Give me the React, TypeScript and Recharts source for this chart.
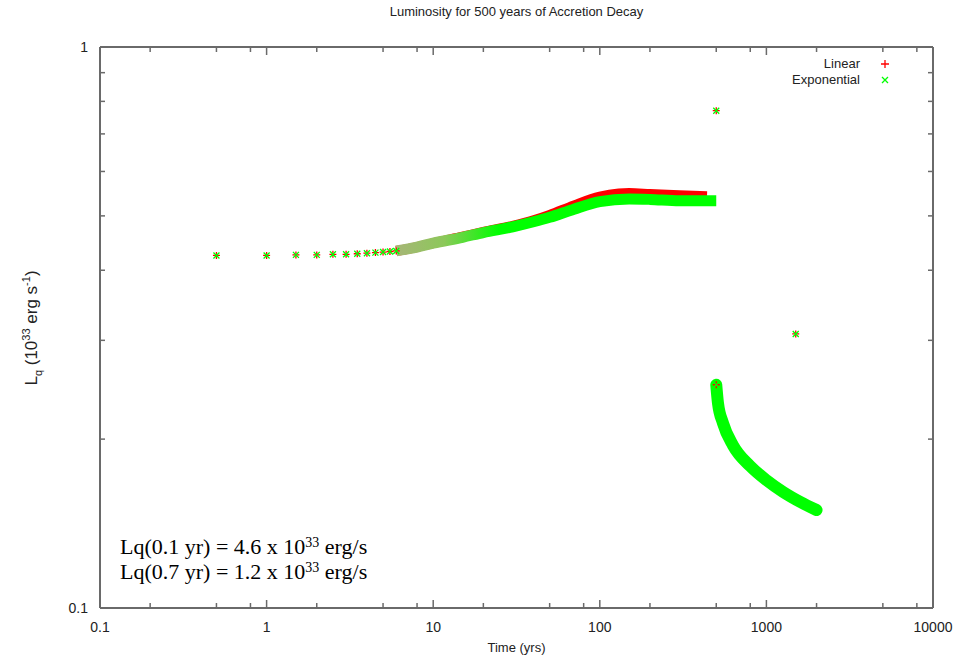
import React from "react";
import { ScatterChart, Scatter, XAxis, YAxis } from "recharts";

// time (yrs) and luminosity (10^33 erg/s)
const earlyT = [0.5, 1, 1.5, 2, 2.5, 3, 3.5, 4, 4.5, 5, 5.5, 6];
const earlyL = [0.425, 0.425, 0.426, 0.426, 0.427, 0.427, 0.428, 0.429, 0.43, 0.431, 0.432, 0.433];

const expT = [6, 8, 10, 15, 20, 30, 40, 50, 70, 100, 150, 200, 300, 400, 500];
const expL = [0.433, 0.44, 0.447, 0.458, 0.467, 0.478, 0.488, 0.497, 0.514, 0.53, 0.536, 0.535, 0.532, 0.532, 0.532];

const linT = [6, 8, 10, 15, 20, 30, 40, 50, 70, 100, 130, 150, 200, 300, 440];
const linL = [0.433, 0.44, 0.447, 0.459, 0.468, 0.48, 0.491, 0.502, 0.522, 0.541, 0.548, 0.549, 0.547, 0.544, 0.542];

const decayT = [500, 512, 549, 630, 800, 1000, 1260, 1600, 2000];
const decayL = [0.25, 0.232, 0.2135, 0.195, 0.179, 0.169, 0.161, 0.1545, 0.1495];

const strayT = [500, 500, 1500];
const strayL = [0.77, 0.25, 0.308];

const xMajor = [0.1, 1, 10, 100, 1000, 10000];
const xMinor = [0.2, 0.5, 0.8, 2, 5, 8, 20, 50, 80, 200, 500, 800, 2000, 5000, 8000];
const yMajor = [0.1, 1];
const yMinor = [0.2, 0.3, 0.4, 0.5, 0.6, 0.7, 0.8, 0.9];

const zip = (t: number[], l: number[]) => t.map((v, i) => ({ t: v, L: l[i] }));

const RED = "#ff0000";
const GREEN = "#00ff00";
const FRAME = "#6a6a6a";
const SANS = "'Liberation Sans', Arial, sans-serif";

const Plus = (p: any) => (
    <path d={`M${p.cx - 3.5},${p.cy}h7M${p.cx},${p.cy - 3.5}v7`} stroke={RED} strokeWidth={1.3} fill="none" />
);
const Cross = (p: any) => (
    <path d={`M${p.cx - 3},${p.cy - 3}l6,6M${p.cx - 3},${p.cy + 3}l6,-6`} stroke={GREEN} strokeWidth={1.3} fill="none" />
);
const Nothing = () => <g />;

const BottomTick = (p: any) => {
    const v = p.payload.value;
    const major = xMajor.includes(v);
    return (
        <g>
            <line x1={p.x} x2={p.x} y1={p.y} y2={p.y - (major ? 8 : 5)} stroke={FRAME} strokeWidth={1.5} />
            {major && (
                <text x={p.x} y={p.y + 24} textAnchor="middle" fontSize={14} fontFamily={SANS} fill="#222">
                    {String(v)}
                </text>
            )}
        </g>
    );
};
const TopTick = (p: any) => {
    const major = xMajor.includes(p.payload.value);
    return <line x1={p.x} x2={p.x} y1={p.y} y2={p.y + (major ? 8 : 5)} stroke={FRAME} strokeWidth={1.5} />;
};
const LeftTick = (p: any) => {
    const v = p.payload.value;
    const major = yMajor.includes(v);
    return (
        <g>
            <line x1={p.x} x2={p.x + (major ? 8 : 5)} y1={p.y} y2={p.y} stroke={FRAME} strokeWidth={1.5} />
            {major && (
                <text x={p.x - 12} y={p.y + 5} textAnchor="end" fontSize={14} fontFamily={SANS} fill="#222">
                    {String(v)}
                </text>
            )}
        </g>
    );
};
const RightTick = (p: any) => {
    const major = yMajor.includes(p.payload.value);
    return <line x1={p.x} x2={p.x - (major ? 8 : 5)} y1={p.y} y2={p.y} stroke={FRAME} strokeWidth={1.5} />;
};

export default function App() {
    const xTicks = [...xMajor, ...xMinor].sort((a, b) => a - b);
    const yTicks = [...yMajor, ...yMinor].sort((a, b) => a - b);
    const axisLine = { stroke: FRAME, strokeWidth: 2 };

    return (
        <div style={{ position: "absolute", left: 0, top: 0, width: 966, height: 666, background: "#fff" }}>
            <ScatterChart width={966} height={666} margin={{ top: 46, right: 32, bottom: 28, left: 60 }}>
                <defs>
                    <linearGradient id="expGrad" x1="0" y1="0" x2="1" y2="0">
                        <stop offset="0" stopColor="#a6b676" />
                        <stop offset="0.15" stopColor="#8cc85a" />
                        <stop offset="0.32" stopColor={GREEN} />
                        <stop offset="1" stopColor={GREEN} />
                    </linearGradient>
                </defs>
                <XAxis xAxisId="b" type="number" dataKey="t" scale="log" domain={[0.1, 10000]} ticks={xTicks}
                    allowDataOverflow height={30} tickSize={0} tickMargin={0} tickLine={false} axisLine={axisLine}
                    tick={<BottomTick />} interval={0} />
                <XAxis xAxisId="tp" orientation="top" type="number" dataKey="t" scale="log" domain={[0.1, 10000]}
                    ticks={xTicks} allowDataOverflow height={1} tickSize={0} tickMargin={0} tickLine={false}
                    axisLine={axisLine} tick={<TopTick />} interval={0} />
                <YAxis yAxisId="l" type="number" dataKey="L" scale="log" domain={[0.1, 1]} ticks={yTicks}
                    allowDataOverflow width={40} tickSize={0} tickMargin={0} tickLine={false} axisLine={axisLine}
                    tick={<LeftTick />} interval={0} />
                <YAxis yAxisId="r" orientation="right" type="number" dataKey="L" scale="log" domain={[0.1, 1]}
                    ticks={yTicks} allowDataOverflow width={1} tickSize={0} tickMargin={0} tickLine={false}
                    axisLine={axisLine} tick={<RightTick />} interval={0} />

                <Scatter xAxisId="tp" yAxisId="r" name="frame" data={zip(strayT, strayL)} shape={<Nothing />}
                    isAnimationActive={false} />
                <Scatter xAxisId="b" yAxisId="l" name="Linear band" data={zip(linT, linL)} shape={<Nothing />}
                    line={{ stroke: RED, strokeWidth: 10, strokeLinecap: "butt" }} lineJointType="monotoneX"
                    isAnimationActive={false} />
                <Scatter xAxisId="b" yAxisId="l" name="Exponential band" data={zip(expT, expL)} shape={<Nothing />}
                    line={{ stroke: "url(#expGrad)", strokeWidth: 11, strokeLinecap: "butt" }} lineJointType="monotoneX"
                    isAnimationActive={false} />
                <Scatter xAxisId="b" yAxisId="l" name="Exponential decay" data={zip(decayT, decayL)} shape={<Nothing />}
                    line={{ stroke: GREEN, strokeWidth: 12, strokeLinecap: "round" }} lineJointType="monotoneX"
                    isAnimationActive={false} />
                <Scatter xAxisId="b" yAxisId="l" name="Linear" data={zip(earlyT, earlyL)} shape={<Plus />}
                    isAnimationActive={false} />
                <Scatter xAxisId="b" yAxisId="l" name="Exponential" data={zip(earlyT, earlyL)} shape={<Cross />}
                    isAnimationActive={false} />
                <Scatter xAxisId="b" yAxisId="l" name="Linear stray" data={zip(strayT, strayL)} shape={<Plus />}
                    isAnimationActive={false} />
                <Scatter xAxisId="b" yAxisId="l" name="Exponential stray" data={zip(strayT, strayL)} shape={<Cross />}
                    isAnimationActive={false} />
            </ScatterChart>

            <div style={{ position: "absolute", left: 0, width: 1033, top: 4, textAlign: "center", font: `13px ${SANS}`, color: "#222" }}>
                Luminosity for 500 years of Accretion Decay
            </div>
            <div style={{ position: "absolute", left: 0, width: 1033, top: 640, textAlign: "center", font: `13px ${SANS}`, color: "#222" }}>
                Time (yrs)
            </div>
            <div style={{ position: "absolute", left: 32, top: 328, transform: "translate(-50%, -50%) rotate(-90deg)", whiteSpace: "nowrap", font: `17px ${SANS}`, color: "#222" }}>
                L<sub style={{ fontSize: 11 }}>q</sub> (10<sup style={{ fontSize: 11 }}>33</sup> erg s<sup style={{ fontSize: 11 }}>-1</sup>)
            </div>

            <div style={{ position: "absolute", right: 966 - 860, top: 56, textAlign: "right", font: `13px ${SANS}`, color: "#222", lineHeight: "16px" }}>
                <div>Linear</div>
                <div>Exponential</div>
            </div>
            <svg style={{ position: "absolute", left: 877, top: 56 }} width={16} height={32}>
                <path d="M4,8h8M8,4v8" stroke={RED} strokeWidth={1.3} />
                <path d="M5,21l6,6M5,27l6,-6" stroke={GREEN} strokeWidth={1.3} />
            </svg>

            <div style={{ position: "absolute", left: 120, top: 534, font: "22px 'Liberation Serif', 'Times New Roman', serif", color: "#000", lineHeight: "25px" }}>
                <div>Lq(0.1 yr) = 4.6 x 10<sup style={{ fontSize: 14, verticalAlign: "7px", lineHeight: 0 }}>33</sup> erg/s</div>
                <div>Lq(0.7 yr) = 1.2 x 10<sup style={{ fontSize: 14, verticalAlign: "7px", lineHeight: 0 }}>33</sup> erg/s</div>
            </div>
        </div>
    );
}
